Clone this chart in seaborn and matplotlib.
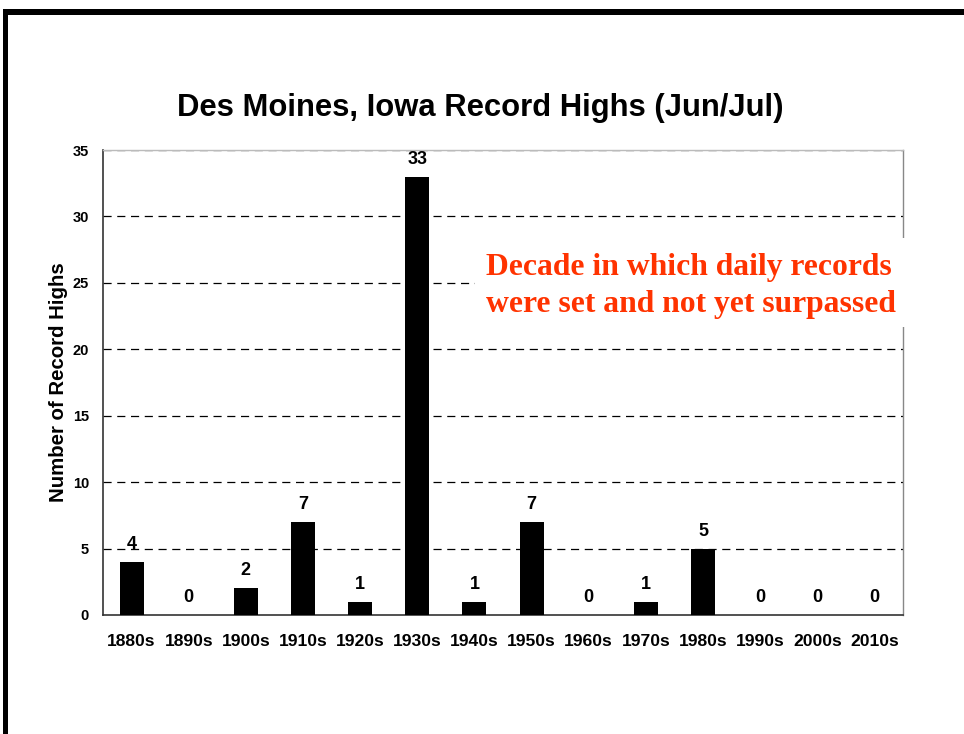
import matplotlib
matplotlib.use("Agg")
import matplotlib.pyplot as plt
from matplotlib.patches import Rectangle
import seaborn as sns
import pandas as pd

decades = ["1880s", "1890s", "1900s", "1910s", "1920s", "1930s", "1940s",
           "1950s", "1960s", "1970s", "1980s", "1990s", "2000s", "2010s"]
records = [4, 0, 2, 7, 1, 33, 1, 7, 0, 1, 5, 0, 0, 0]
yticks = [0, 5, 10, 15, 20, 25, 30, 35]

title = "Des Moines, Iowa Record Highs (Jun/Jul)"
ylabel = "Number of Record Highs"
note = "Decade in which daily records\nwere set and not yet surpassed"

sns.set_style("white")
plt.rcParams["font.family"] = ["Liberation Sans", "DejaVu Sans"]
plt.rcParams["text.color"] = "black"
plt.rcParams["xtick.color"] = "black"
plt.rcParams["ytick.color"] = "black"
plt.rcParams["xtick.labelcolor"] = "black"
plt.rcParams["ytick.labelcolor"] = "black"

df = pd.DataFrame({"decade": decades, "records": records})

fig = plt.figure(figsize=(9.64, 7.34), dpi=100)
ax = fig.add_axes([103 / 964, 1 - 615 / 734, 800 / 964, 465 / 734])

sns.barplot(data=df, x="decade", y="records", color="black", width=0.42,
            saturation=1, ax=ax, zorder=3, edgecolor="black", linewidth=0)

ax.set_xlim(-0.5, len(decades) - 0.5)
ax.set_ylim(0, 35)
ax.set_yticks(yticks)
ax.set_yticklabels([str(v) for v in yticks], fontsize=10.5, fontweight="bold",
                   color="black")
ax.set_xticks(range(len(decades)))
ax.set_xticklabels(decades, fontsize=12.6, fontweight="bold", color="black")
ax.set_xlabel("")
ax.set_ylabel("")

# tick marks between categories on x
ax.tick_params(axis="x", which="major", length=0, pad=14)
ax.set_xticks([i - 0.5 for i in range(len(decades) + 1)], minor=True)
ax.tick_params(axis="x", which="minor", length=5, width=1, color="#333333", direction="out")
ax.tick_params(axis="y", length=4, width=1, color="#333333", direction="out", pad=6)

for y in yticks[1:]:
    ax.axhline(y, color="black", linestyle=(0, (6.5, 4.5)), linewidth=0.9, zorder=1)

for side in ["left", "bottom"]:
    ax.spines[side].set_color("#333333")
    ax.spines[side].set_linewidth(1.2)
ax.spines["right"].set_color("#888888")
ax.spines["right"].set_linewidth(1.0)
ax.spines["top"].set_color("#bbbbbb")
ax.spines["top"].set_linewidth(1.0)

for i, v in enumerate(records):
    ax.annotate(str(v), (i, v), xytext=(0, 6.5), textcoords="offset points",
                ha="center", va="bottom", fontsize=13, fontweight="bold",
                color="black")

fig.text(480 / 964, 1 - 108 / 734, title, ha="center", va="center",
         fontsize=22.3, fontweight="bold", color="black")
fig.text(59 / 964, 1 - 382.5 / 734, ylabel, rotation=90, ha="center", va="center",
         fontsize=14.7, fontweight="bold", color="black")

fig.patches.append(Rectangle((475 / 964, 1 - 327 / 734), 435 / 964, 89 / 734,
                             transform=fig.transFigure, facecolor="white",
                             edgecolor="none", zorder=5))
fig.text(486 / 964, 1 - 286 / 734, note, ha="left", va="center",
         fontsize=22.8, fontweight="bold", color="#FF3300",
         family=["Liberation Serif", "DejaVu Serif"], linespacing=1.32, zorder=6)

# black frame (top and left)
fig.patches.append(Rectangle((3 / 964, 1 - 15 / 734), 961 / 964, 6 / 734,
                             transform=fig.transFigure, facecolor="black",
                             edgecolor="none", zorder=7))
fig.patches.append(Rectangle((3 / 964, 0), 4.5 / 964, 1 - 9 / 734,
                             transform=fig.transFigure, facecolor="black",
                             edgecolor="none", zorder=7))

fig.savefig("out.png", dpi=100)
